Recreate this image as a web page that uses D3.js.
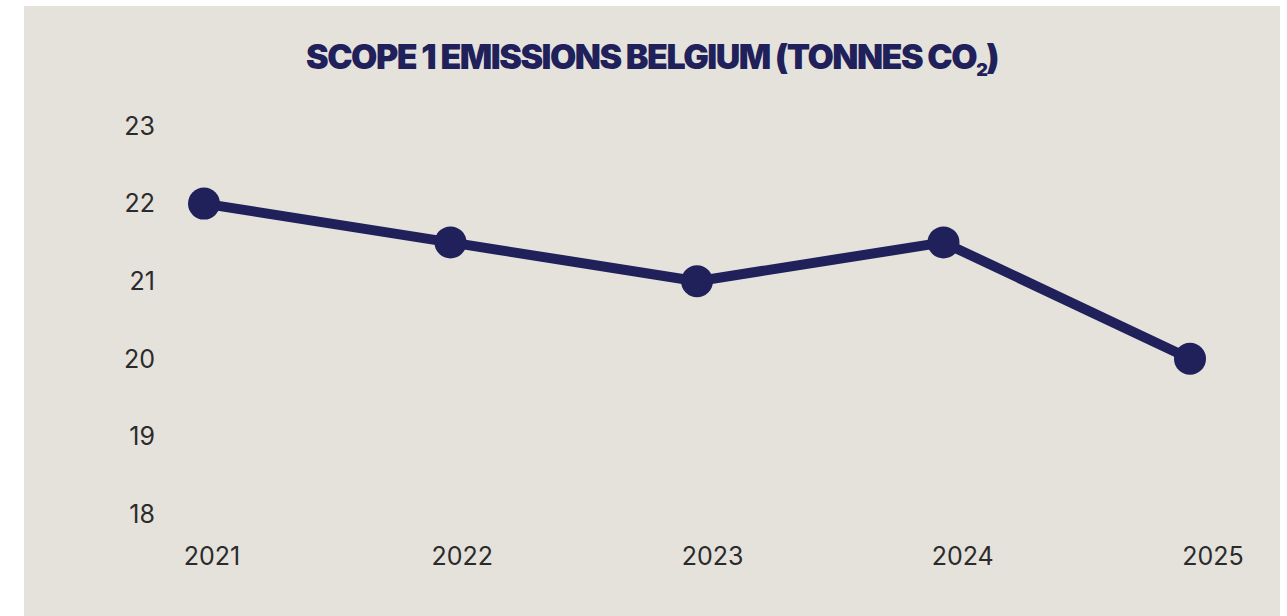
<!DOCTYPE html>
<html>
<head>
<meta charset="utf-8">
<script src="https://cdn.jsdelivr.net/npm/d3@7"></script>
<style>
  html, body { margin: 0; padding: 0; background: #fff; }
</style>
</head>
<body>
<script>
// data
const years = [2021, 2022, 2023, 2024, 2025];
const emissions = [22, 21.5, 21, 21.5, 20];
const yTicks = [18, 19, 20, 21, 22, 23];

const width = 1287, height = 616;
const navy = "#20205a";
const ink = "#2b2b2b";

const svg = d3.select("body").append("svg")
    .attr("width", width)
    .attr("height", height);

// panel
svg.append("rect")
    .attr("x", 24).attr("y", 6)
    .attr("width", 1256).attr("height", 610)
    .attr("fill", "#e5e2dc");

// title
const title = svg.append("text")
    .attr("x", 652).attr("y", 69)
    .attr("text-anchor", "middle")
    .attr("font-family", "Inter, 'Open Sans', sans-serif")
    .attr("font-weight", 900)
    .attr("font-size", 34)
    .attr("letter-spacing", -1.5)
    .attr("fill", navy);
title.append("tspan").text("SCOPE 1 EMISSIONS BELGIUM (TONNES CO");
title.append("tspan").attr("font-size", 18).attr("dy", 7).text("2");
title.append("tspan").attr("dy", -7).text(")");

// scales
const y = d3.scaleLinear().domain([18, 23]).range([514, 126]);
const x = d3.scaleLinear().domain([2021, 2025]).range([204, 1190]);
// year labels sit on their own slightly offset grid
const xLab = d3.scalePoint().domain(years).range([212, 1213]);

// y axis labels
svg.append("g")
    .attr("font-family", "Inter, sans-serif")
    .attr("font-size", 25)
    .attr("fill", ink)
  .selectAll("text")
  .data(yTicks)
  .join("text")
    .attr("x", 155)
    .attr("y", d => y(d))
    .attr("dy", "0.35em")
    .attr("text-anchor", "end")
    .text(d => d);

// x axis labels
svg.append("g")
    .attr("font-family", "Inter, sans-serif")
    .attr("font-size", 25)
    .attr("fill", ink)
  .selectAll("text")
  .data(years)
  .join("text")
    .attr("x", d => xLab(d))
    .attr("y", 565)
    .attr("text-anchor", "middle")
    .text(d => d);

const pts = years.map((yr, i) => [yr, emissions[i]]);

svg.append("path")
    .datum(pts)
    .attr("fill", "none")
    .attr("stroke", navy)
    .attr("stroke-width", 10)
    .attr("stroke-linejoin", "round")
    .attr("d", d3.line().x(d => x(d[0])).y(d => y(d[1])));

svg.append("g")
  .selectAll("circle")
  .data(pts)
  .join("circle")
    .attr("cx", d => x(d[0]))
    .attr("cy", d => y(d[1]))
    .attr("r", 16)
    .attr("fill", navy);
</script>
</body>
</html>
